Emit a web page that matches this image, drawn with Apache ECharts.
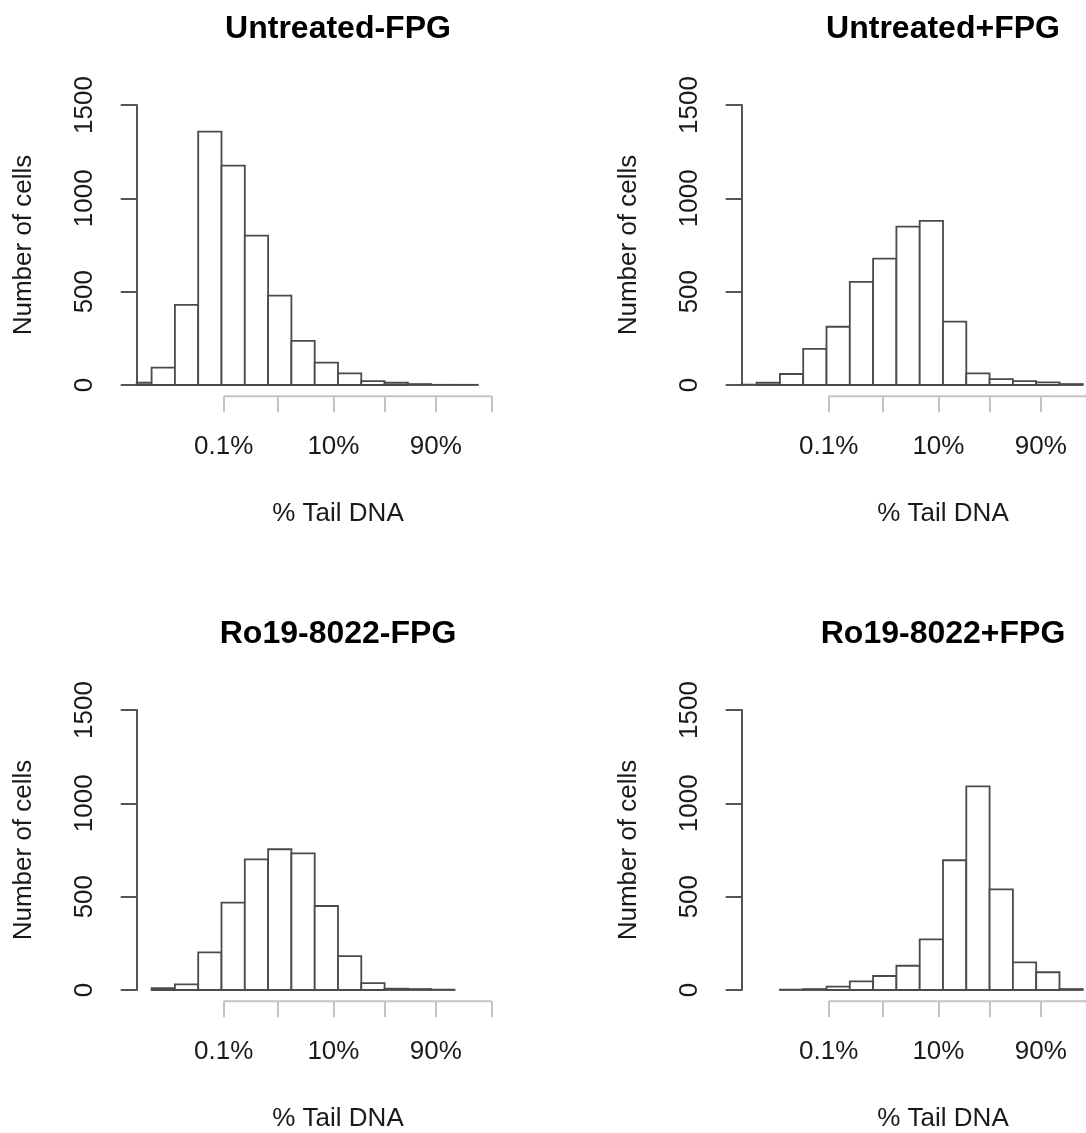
<!DOCTYPE html>
<html>
<head>
<meta charset="utf-8">
<script src="https://cdn.jsdelivr.net/npm/echarts@6/dist/echarts.min.js"></script>
<style>
  html, body { margin: 0; padding: 0; background: #ffffff; }
  #chart { width: 1086px; height: 1133px; }
</style>
</head>
<body>
<div id="chart"></div>
<script>
// ---------------- data ----------------
// Histogram bins are one logit unit wide; each panel lists the lower edge of its first bin and the counts.
const panelTitles = ['Untreated-FPG', 'Untreated+FPG', 'Ro19-8022-FPG', 'Ro19-8022+FPG'];
const firstBinEdge = [-11, -11, -10, -9];
const countsUntreatedMinus = [12, 93, 429, 1357, 1175, 800, 479, 236, 120, 62, 21, 12, 5, 1, 1];
const countsUntreatedPlus  = [2, 12, 59, 193, 312, 552, 677, 848, 879, 339, 62, 32, 21, 14, 5];
const countsRoMinus        = [10, 30, 202, 468, 700, 754, 732, 450, 182, 37, 7, 5, 2];
const countsRoPlus         = [2, 5, 18, 46, 75, 130, 271, 695, 1091, 539, 148, 95, 5];
const panelCounts = [countsUntreatedMinus, countsUntreatedPlus, countsRoMinus, countsRoPlus];

// x axis (% Tail DNA on a logit scale)
const tickPercents = [0.1, 1, 10, 50, 90, 99];
const labelPercents = [0.1, 10, 90];
const tickLabels = ['0.1%', '10%', '90%'];
// y axis
const yTicks = [0, 500, 1000, 1500];
const xTitle = '% Tail DNA';
const yTitle = 'Number of cells';

// ---------------- layout ----------------
const X_MIN = -10.64, X_MAX = 6.64;     // plot range in logit units
const Y_MIN = 0, Y_MAX = 1500;
const X_AXIS_AT = -60;                  // x axis drawn just below the plot (R style)
const GRID_W = 402.6, GRID_H = 280;
const lefts = [136.7, 741.7, 136.7, 741.7];
const tops = [105, 105, 710, 710];
const FONT = '"Liberation Sans", Arial, Helvetica, sans-serif';
const BAR_STROKE = '#4a4a4a';
const AXIS_GRAY = '#c4c4c4';
const TEXT = '#1a1a1a';

const logit = p => Math.log(p / (1 - p));
const tickVals = tickPercents.map(p => logit(p / 100));
const labelVals = labelPercents.map(p => logit(p / 100));

function labelFor(v) {
  for (let i = 0; i < labelVals.length; i++) {
    if (Math.abs(labelVals[i] - v) < 1e-6) return tickLabels[i];
  }
  return '';
}

function renderBars(params, api) {
  const lo = api.value(0), hi = api.value(1), n = api.value(2);
  const p0 = api.coord([lo, n]);
  const p1 = api.coord([hi, 0]);
  const cs = params.coordSys;
  const shape = echarts.graphic.clipRectByRect(
    { x: p0[0], y: p0[1], width: p1[0] - p0[0], height: p1[1] - p0[1] },
    { x: cs.x, y: cs.y, width: cs.width, height: cs.height + 2 }
  );
  if (!shape) return null;
  return {
    type: 'rect',
    shape: shape,
    style: { fill: '#ffffff', stroke: BAR_STROKE, lineWidth: 1.8 }
  };
}

const grids = [], xAxes = [], yAxes = [], series = [], graphics = [];

for (let i = 0; i < 4; i++) {
  grids.push({ left: lefts[i], top: tops[i], width: GRID_W, height: GRID_H,
               containLabel: false, outerBoundsMode: 'none' });

  xAxes.push({
    type: 'value', gridIndex: i, min: X_MIN, max: X_MAX,
    position: 'bottom',
    offset: GRID_H * (Y_MIN - X_AXIS_AT) / (Y_MAX - Y_MIN),
    axisLine: { show: false, onZero: false },
    axisTick: { show: true, customValues: tickVals, length: 16, inside: false,
                lineStyle: { color: AXIS_GRAY, width: 2 } },
    axisLabel: { show: true, customValues: labelVals, formatter: v => labelFor(v),
                 margin: 38, fontSize: 26, fontFamily: FONT, color: TEXT },
    splitLine: { show: false },
    name: xTitle, nameLocation: 'middle', nameGap: 105,
    nameTextStyle: { fontSize: 26, fontFamily: FONT, color: TEXT }
  });

  yAxes.push({
    type: 'value', gridIndex: i, min: Y_MIN, max: Y_MAX, interval: 500,
    position: 'left',
    axisLine: { show: true, onZero: false, lineStyle: { color: '#555555', width: 2 } },
    axisTick: { show: true, length: 16, inside: false, lineStyle: { color: '#555555', width: 2 } },
    axisLabel: { show: true, rotate: 90, margin: 39, fontSize: 26, fontFamily: FONT, color: TEXT,
                 customValues: yTicks, formatter: v => String(v) },
    splitLine: { show: false },
    name: yTitle, nameLocation: 'middle', nameGap: 100,
    nameTextStyle: { fontSize: 26, fontFamily: FONT, color: TEXT }
  });

  const counts = panelCounts[i];
  const data = counts.map((c, k) => [firstBinEdge[i] + k, firstBinEdge[i] + k + 1, c]);
  series.push({
    type: 'custom', xAxisIndex: i, yAxisIndex: i,
    renderItem: renderBars,
    encode: { x: [0, 1], y: 2 },
    data: data, silent: true, z: 3
  });

  // horizontal line of the x axis, from the first to the last tick
  series.push({
    type: 'line', xAxisIndex: i, yAxisIndex: i,
    data: [[tickVals[0], X_AXIS_AT], [tickVals[tickVals.length - 1], X_AXIS_AT]],
    symbol: 'none', clip: false, silent: true, z: 2,
    lineStyle: { color: AXIS_GRAY, width: 2 }
  });

  graphics.push({
    type: 'text',
    x: lefts[i] + GRID_W / 2,
    y: tops[i] - 76,
    style: {
      text: panelTitles[i],
      font: 'bold 32px ' + FONT,
      fill: '#000000',
      textAlign: 'center',
      textVerticalAlign: 'middle'
    }
  });
}

const chart = echarts.init(document.getElementById('chart'), null, { renderer: 'canvas' });
chart.setOption({
  backgroundColor: '#ffffff',
  animation: false,
  grid: grids,
  xAxis: xAxes,
  yAxis: yAxes,
  series: series,
  graphic: graphics
});
</script>
</body>
</html>
